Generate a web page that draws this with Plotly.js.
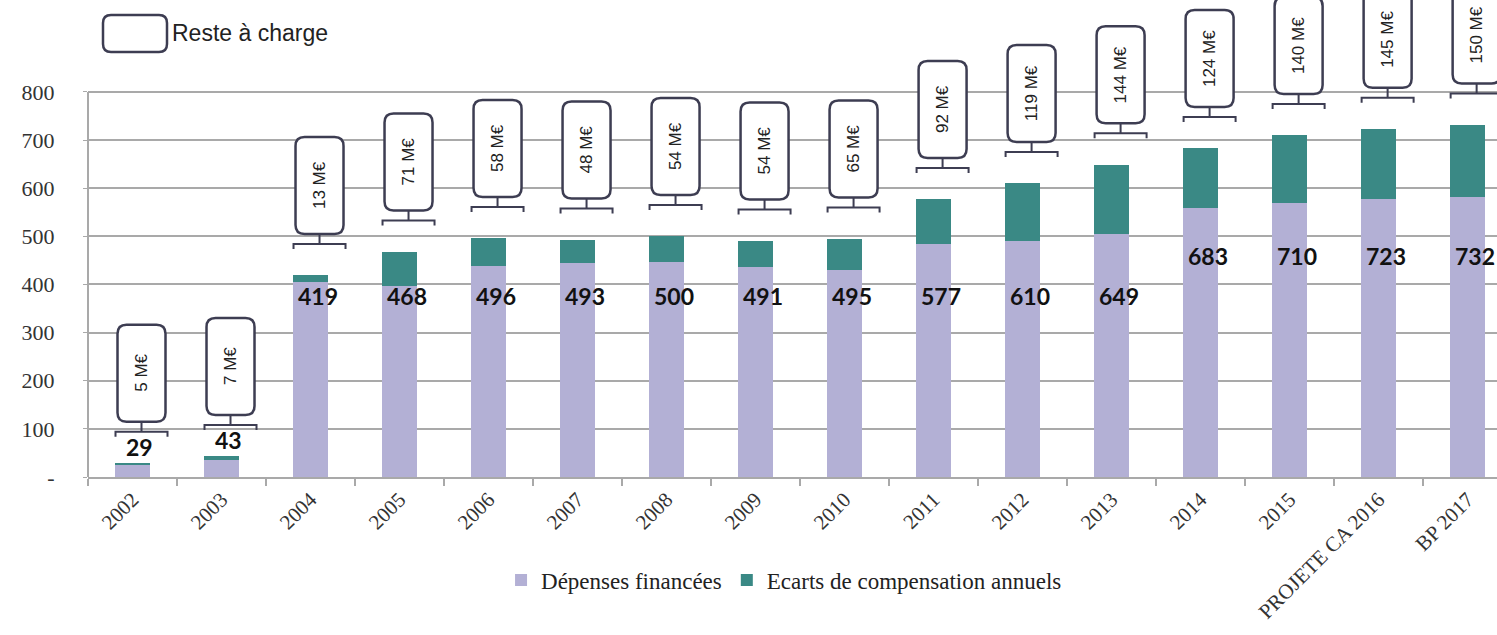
<!DOCTYPE html>
<html>
<head>
<meta charset="utf-8">
<script src="https://cdn.plot.ly/plotly-3.0.1.min.js"></script>
<style>html,body{margin:0;padding:0;background:#fff;}#chart{width:1497px;height:635px;}</style>
</head>
<body>
<div id="chart"></div>
<script>
// ---- data ----
var categories = ["2002","2003","2004","2005","2006","2007","2008","2009","2010","2011","2012","2013","2014","2015","PROJETE CA 2016","BP 2017"];
var depensesFinancees = [24,36,406,397,438,445,446,437,430,485,491,505,559,570,578,582];
var ecartsCompensation = [5,7,13,71,58,48,54,54,65,92,119,144,124,140,145,150];
var resteACharge = [5,7,13,71,58,48,54,54,65,92,119,144,124,140,145,150];
var yTickVals = [0,100,200,300,400,500,600,700,800];
var yTickText = ["-","100","200","300","400","500","600","700","800"];

var PURPLE = "#b3b0d5", TEAL = "#3a8985", LINE = "#3d3d52", GRID = "#a9a9a9";
var SERIF = "'Liberation Serif', 'DejaVu Serif', serif";

var totals = depensesFinancees.map(function(v, i){ return v + ecartsCompensation[i]; });

var traces = [
  {type:"bar", name:"Dépenses financées", x:categories, y:depensesFinancees,
   marker:{color:PURPLE}, width:0.4, hoverinfo:"x+y"},
  {type:"bar", name:"Ecarts de compensation annuels", x:categories, y:ecartsCompensation,
   marker:{color:TEAL}, width:0.4, hoverinfo:"x+y"}
];

var shapes = [], annotations = [];
// left axis line (0..800)
shapes.push({type:"line", xref:"paper", yref:"y", x0:0, x1:0, y0:0, y1:800,
             line:{color:GRID, width:2}, layer:"above"});

function roundedBox(x0, y0, x1, y1, r){
  return "M"+(x0+r)+","+y0+" L"+(x1-r)+","+y0+" Q"+x1+","+y0+" "+x1+","+(y0+r)+
         " L"+x1+","+(y1-r)+" Q"+x1+","+y1+" "+(x1-r)+","+y1+
         " L"+(x0+r)+","+y1+" Q"+x0+","+y1+" "+x0+","+(y1-r)+
         " L"+x0+","+(y0+r)+" Q"+x0+","+y0+" "+(x0+r)+","+y0+" Z";
}

var cx = 9, half = 26, boxH = 97, gap = 10;
totals.forEach(function(t, i){
  var by = t + 65;
  // bracket
  shapes.push({type:"path", xref:"x", yref:"y", xsizemode:"pixel", ysizemode:"pixel",
    xanchor:i, yanchor:by,
    path:"M"+(cx-half)+",-5 L"+(cx-half)+",0 L"+(cx+half)+",0 L"+(cx+half)+",-5 M"+cx+",0 L"+cx+","+gap,
    line:{color:LINE, width:2}});
  // box
  shapes.push({type:"path", xref:"x", yref:"y", xsizemode:"pixel", ysizemode:"pixel",
    xanchor:i, yanchor:by,
    path:roundedBox(cx-24, gap, cx+24, gap+boxH, 9),
    line:{color:LINE, width:2.5}, fillcolor:"rgba(255,255,255,1)"});
  annotations.push({xref:"x", yref:"y", x:i, y:by, xshift:cx, yshift:gap+boxH/2,
    text:resteACharge[i]+" M€", textangle:-90, showarrow:false,
    font:{family:"'Liberation Sans', Arial, sans-serif", size:17, color:"#222"}});
  // total label
  var ly, ya;
  if (t < 100) { ly = t; ya = "bottom"; }
  else if (t < 660) { ly = 410; ya = "top"; }
  else { ly = 492; ya = "top"; }
  annotations.push({xref:"x", yref:"y", x:i, y:ly, xshift:7, yanchor:ya,
    text:"<b>"+t+"</b>", showarrow:false,
    font:{family:"Lato, 'Open Sans', sans-serif", size:23, color:"#111"}});
});

// top "Reste à charge" legend
shapes.push({type:"path", xref:"paper", yref:"paper", xsizemode:"pixel", ysizemode:"pixel",
  xanchor:0, yanchor:1, path:roundedBox(15, -52, 79, -15, 8),
  line:{color:LINE, width:2.5}, fillcolor:"rgba(255,255,255,1)"});
annotations.push({xref:"paper", yref:"paper", x:(170-88)/1409, y:(477-33)/477,
  xanchor:"left", yanchor:"middle", text:"Reste à charge", showarrow:false,
  font:{family:"'Liberation Sans', Arial, sans-serif", size:23, color:"#222"}});

var layout = {
  width:1497, height:635,
  margin:{l:88, r:0, t:0, b:158},
  paper_bgcolor:"#fff", plot_bgcolor:"#fff",
  barmode:"stack",
  showlegend:true,
  legend:{orientation:"h", traceorder:"normal", x:0.494, xanchor:"center", y:-0.216, yanchor:"middle",
          font:{family:SERIF, size:23, color:"#222"}, itemwidth:30, tracegroupgap:0},
  xaxis:{type:"category", range:[-0.5, 15.33], showgrid:false, showline:true,
         linecolor:GRID, linewidth:2, ticks:"outside", tickson:"boundaries",
         tickcolor:GRID, ticklen:7, tickwidth:1.5, tickangle:-45,
         tickfont:{family:SERIF, size:21, color:"#333"}, zeroline:false, fixedrange:true},
  yaxis:{range:[0, 991], tickvals:yTickVals, ticktext:yTickText,
         showgrid:true, gridcolor:GRID, gridwidth:2, zeroline:false, showline:false,
         ticks:"outside", ticklen:4, tickcolor:GRID, ticklabelstandoff:24,
         tickfont:{family:SERIF, size:22, color:"#333"}, fixedrange:true},
  shapes:shapes, annotations:annotations
};

Plotly.newPlot("chart", traces, layout, {displayModeBar:false, staticPlot:true});
</script>
</body>
</html>
